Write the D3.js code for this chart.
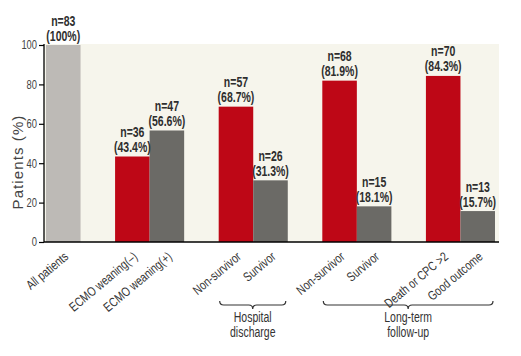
<!DOCTYPE html>
<html><head><meta charset="utf-8">
<script src="https://cdn.jsdelivr.net/npm/d3@7"></script>
<style>
body{margin:0;background:#fff;}
svg{display:block;}
text{font-family:"Liberation Sans",Arial,Helvetica,sans-serif;}
</style></head>
<body><svg id="c" width="521" height="356"></svg>
<script>
const slots = ["All patients","gap1","ECMO weaning(\u2013)","ECMO weaning(+)","gap2","Non-survivor","Survivor","gap3","Non-survivor ","Survivor ","gap4","Death or CPC >2","Good outcome"];
const categories = ["All patients","ECMO weaning(\u2013)","ECMO weaning(+)","Non-survivor","Survivor","Non-survivor ","Survivor ","Death or CPC >2","Good outcome"];
const values = [100,43.4,56.6,68.7,31.3,81.9,18.1,84.3,15.7];
const counts = [83,36,47,57,26,68,15,70,13];
const pctLabels = ["(100%)","(43.4%)","(56.6%)","(68.7%)","(31.3%)","(81.9%)","(18.1%)","(84.3%)","(15.7%)"];
const kinds = ["all","neg","pos","neg","pos","neg","pos","neg","pos"];
const yTicks = [0,20,40,60,80,100];
const groups = [
  {label:["Hospital","discharge"], from:"Non-survivor", to:"Survivor"},
  {label:["Long-term","follow-up"], from:"Non-survivor ", to:"Good outcome"}
];
const colors = {all:"#bdbab6", neg:"#be0716", pos:"#6b6a66"};
const SX = 0.75;

const svg = d3.select("#c");
const x = d3.scaleBand().domain(slots).range([46,495]).padding(0);
const y = d3.scaleLinear().domain([0,100]).range([242,45]);

// background
svg.append("rect").attr("x",44).attr("y",44).attr("width",455).attr("height",198).attr("fill","#f6f5ec");

// bars
svg.selectAll("rect.bar").data(categories).enter().append("rect")
  .attr("class","bar")
  .attr("x",d=>x(d)).attr("width",x.bandwidth())
  .attr("y",(d,i)=>y(values[i])).attr("height",(d,i)=>y(0)-y(values[i]))
  .attr("fill",(d,i)=>colors[kinds[i]]);

// value labels
const lab = svg.selectAll("g.lab").data(categories).enter().append("g").attr("class","lab")
  .attr("transform",(d,i)=>`translate(${x(d)+x.bandwidth()/2},${y(values[i])}) scale(${SX},1)`);
lab.append("text").attr("y",-19.5).attr("text-anchor","middle").attr("font-size",14).attr("font-weight","bold").attr("fill","#2e2e2e").text((d,i)=>"n="+counts[i]);
lab.append("text").attr("y",-4.5).attr("text-anchor","middle").attr("font-size",14).attr("font-weight","bold").attr("fill","#2e2e2e").text((d,i)=>pctLabels[i]);

// y axis
const ya = svg.append("g").attr("transform","translate(44,0)")
  .call(d3.axisLeft(y).tickValues(yTicks).tickSize(5).tickPadding(2));
ya.select(".domain").attr("stroke","#000").attr("stroke-width",1.3).attr("d","M0,44V242");
ya.selectAll(".tick line").attr("stroke","#000").attr("stroke-width",1.2);
ya.selectAll(".tick text").attr("x",0).attr("transform","translate(-7,0) scale(0.78,1)")
  .attr("font-size",12).attr("fill","#444").attr("font-family",null);

// x axis line
svg.append("line").attr("x1",44).attr("x2",499).attr("y1",242).attr("y2",242).attr("stroke","#000").attr("stroke-width",1.5);

// y title
svg.append("text").attr("transform","translate(23,162) rotate(-90)").attr("text-anchor","middle")
  .attr("font-size",15).attr("letter-spacing",1.1).attr("fill","#444").text("Patients (%)");

// x labels
svg.selectAll("text.xl").data(categories).enter().append("text").attr("class","xl")
  .attr("transform",d=>`translate(${x(d)+x.bandwidth()/2+6},${258}) rotate(-40) scale(0.79,1)`)
  .attr("text-anchor","end").attr("font-size",13).attr("fill","#333").text(d=>d.trim());

// brackets
groups.forEach(g=>{
  const x0 = x(g.from)+1, x1 = x(g.to)+x.bandwidth()-2, m=(x0+x1)/2, yb=305;
  svg.append("path").attr("fill","none").attr("stroke","#333").attr("stroke-width",1.2)
    .attr("d",`M${x0},${yb-4}Q${x0},${yb} ${x0+4},${yb}L${m-4},${yb}Q${m},${yb} ${m},${yb+4}Q${m},${yb} ${m+4},${yb}L${x1-4},${yb}Q${x1},${yb} ${x1},${yb-4}`);
  g.label.forEach((t,k)=>{
    svg.append("text").attr("transform",`translate(${m},${322+k*15}) scale(${SX},1)`).attr("text-anchor","middle")
      .attr("font-size",14).attr("fill","#333").text(t);
  });
});
</script></body></html>
